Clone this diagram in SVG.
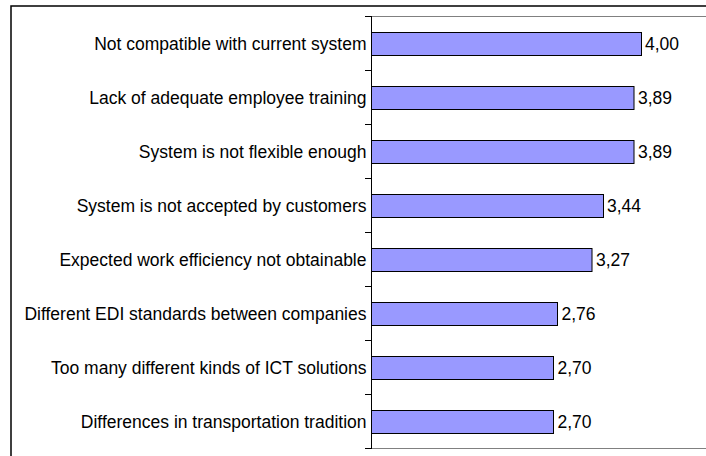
<svg xmlns="http://www.w3.org/2000/svg" width="706" height="456" viewBox="0 0 706 456">
<style>
.lbl{font-family:"Liberation Sans",Arial,sans-serif;font-size:17.5px;fill:#000}
.cat{text-anchor:end}
.bar{fill:#9999FF;stroke:#000;stroke-width:1}
.grid{stroke:#808080;stroke-width:1;fill:none}
.axis{stroke:#000;stroke-width:1;fill:none}
</style>
<rect width="706" height="456" fill="#fff"/>
<rect x="11" y="6" width="730" height="480" fill="none" stroke="#000" stroke-width="1.5"/>
<g id="plot-frame">
<line class="grid" x1="371" y1="16.5" x2="706" y2="16.5"/>
<line class="grid" x1="371" y1="448.5" x2="706" y2="448.5"/>
</g>
<g id="axis">
<line class="axis" x1="371.5" y1="16" x2="371.5" y2="449"/>
<path class="axis" d="M365 16.5H371M365 70.5H371M365 124.5H371M365 178.5H371M365 232.5H371M365 286.5H371M365 340.5H371M365 394.5H371M365 448.5H371"/>
</g>
<g id="bar1"><rect class="bar" x="371.5" y="32.5" width="270" height="23"/><text class="lbl cat" x="366.5" y="50">Not compatible with current system</text><text class="lbl" x="645" y="50">4,00</text></g>
<g id="bar2"><rect class="bar" x="371.5" y="86.5" width="262.5" height="23"/><text class="lbl cat" x="366.5" y="104">Lack of adequate employee training</text><text class="lbl" x="638" y="104">3,89</text></g>
<g id="bar3"><rect class="bar" x="371.5" y="140.5" width="262.5" height="23"/><text class="lbl cat" x="366.5" y="158">System is not flexible enough</text><text class="lbl" x="638" y="158">3,89</text></g>
<g id="bar4"><rect class="bar" x="371.5" y="194.5" width="232" height="23"/><text class="lbl cat" x="366.5" y="212">System is not accepted by customers</text><text class="lbl" x="607" y="212">3,44</text></g>
<g id="bar5"><rect class="bar" x="371.5" y="248.5" width="220.5" height="23"/><text class="lbl cat" x="366.5" y="266">Expected work efficiency not obtainable</text><text class="lbl" x="596" y="266">3,27</text></g>
<g id="bar6"><rect class="bar" x="371.5" y="302.5" width="186" height="23"/><text class="lbl cat" x="366.5" y="320">Different EDI standards between companies</text><text class="lbl" x="561.5" y="320">2,76</text></g>
<g id="bar7"><rect class="bar" x="371.5" y="356.5" width="182" height="23"/><text class="lbl cat" x="366.5" y="374">Too many different kinds of ICT solutions</text><text class="lbl" x="557.5" y="374">2,70</text></g>
<g id="bar8"><rect class="bar" x="371.5" y="410.5" width="182" height="23"/><text class="lbl cat" x="366.5" y="428">Differences in transportation tradition</text><text class="lbl" x="557.5" y="428">2,70</text></g>
</svg>
